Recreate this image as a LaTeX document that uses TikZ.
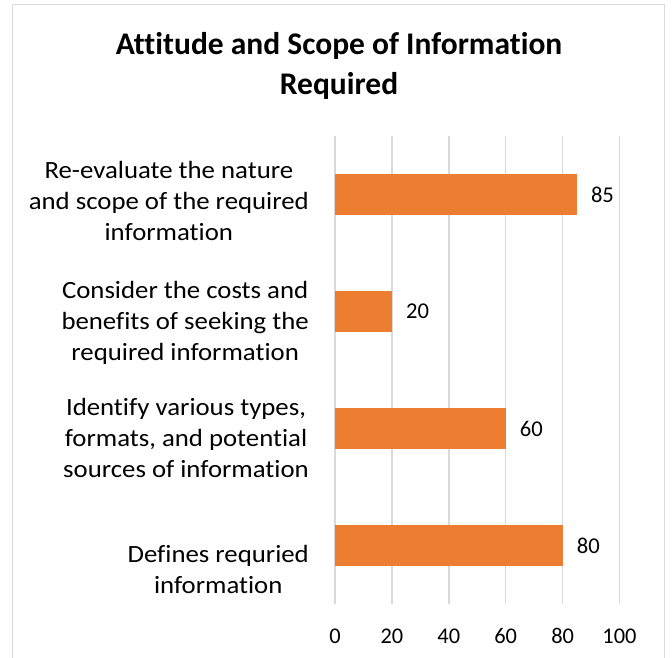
\documentclass[tikz,border=0pt]{standalone}
\usepackage{fontspec}
\setmainfont{Carlito}[Ligatures={NoCommon}]
\newfontfamily\catfont[FakeStretch=1.08,Ligatures={NoCommon}]{Carlito}
\definecolor{barorange}{HTML}{ED7D31}
\definecolor{gridgray}{HTML}{D9D9D9}
\begin{document}
\begin{tikzpicture}[x=1pt,y=-1pt,
  gridline/.style={draw=gridgray,line width=1.4pt},
  bar/.style={fill=barorange,draw=none},
  catlabel/.style={anchor=base east,inner sep=0pt,align=center,font=\catfont\fontsize{24.8}{31}\selectfont},
  vallabel/.style={anchor=west,inner sep=0pt,font=\fontsize{22.6}{27}\selectfont},
  ticklabel/.style={anchor=base,inner sep=0pt,font=\fontsize{22.4}{27}\selectfont},
  charttitle/.style={anchor=base,inner sep=0pt,align=center,font=\fontsize{31.5}{40}\selectfont\bfseries}]
\useasboundingbox (0,0) rectangle (672,658);
\clip (0,0) rectangle (672,658);
\fill[white] (0,0) rectangle (672,658);
\draw[gridgray,line width=1.4pt] (12.5,690) -- (12.5,4.5) -- (664.5,4.5) -- (664.5,690);
% title (base anchor = baseline of last line)
\node[charttitle] (title) at (339,95) {Attitude and Scope of Information\\Required};
% grid
\foreach \v/\n in {0/g0,20/g20,40/g40,60/g60,80/g80,100/g100}{
  \coordinate (\n top) at ({335+2.845*\v},136);
  \coordinate (\n bot) at ({335+2.845*\v},604);
  \draw[gridline] (\n top) -- (\n bot);
  \node[ticklabel] (t\n) at ({335+2.845*\v},643) {\v};
}
% bars
\foreach \c/\v/\n in {194.5/85/b1,311.5/20/b2,428.5/60/b3,545.5/80/b4}{
  \path[bar] (335,{\c-20.5}) rectangle ({335+2.845*\v},{\c+20.5});
  \coordinate (\n end) at ({335+2.845*\v},\c);
  \node[vallabel] (\n val) at ([xshift=14pt]\n end) {\v};
}
% category labels (base anchor = baseline of last line)
\node[catlabel] (l1) at (309,240) {Re-evaluate the nature\\and scope of the required\\information};
\node[catlabel] (l2) at (309,360) {Consider the costs and\\benefits of seeking the\\required information};
\node[catlabel] (l3) at (309,477) {Identify various types,\\formats, and potential\\sources of information};
\node[catlabel] (l4) at (309,593) {Defines requried\\information};
\end{tikzpicture}
\end{document}
